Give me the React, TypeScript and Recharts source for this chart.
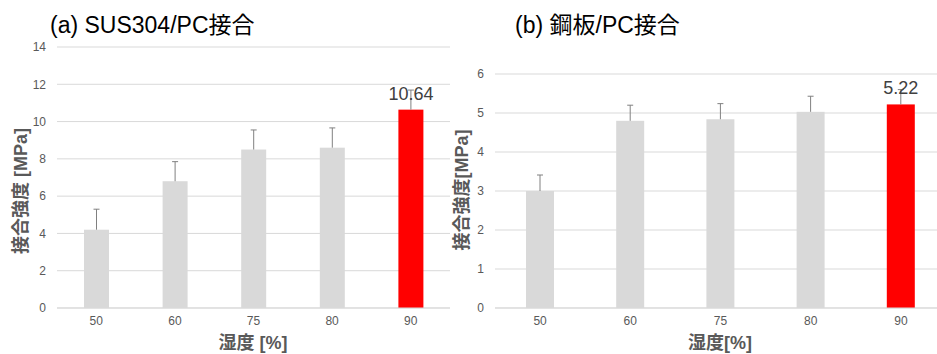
import React from 'react';
import { BarChart, Bar, XAxis, YAxis, CartesianGrid, Cell, LabelList } from 'recharts';

const categories = ['50', '60', '75', '80', '90'];
const susValues = [4.2, 6.8, 8.5, 8.6, 10.64];
const susErrors = [1.1, 1.05, 1.05, 1.06, 1.05];
const steelValues = [3.0, 4.8, 4.84, 5.03, 5.22];
const steelErrors = [0.41, 0.4, 0.4, 0.4, 0.38];
const susTicks = [0, 2, 4, 6, 8, 10, 12, 14];
const steelTicks = [0, 1, 2, 3, 4, 5, 6];

const susData = categories.map((c, i) => ({ name: c, value: susValues[i], err: susErrors[i] }));
const steelData = categories.map((c, i) => ({ name: c, value: steelValues[i], err: steelErrors[i] }));

const FONT = '"Liberation Sans", Arial, "Noto Sans CJK JP", sans-serif';
const GRAY_BAR = '#D9D9D9';
const RED = '#FF0000';
const TICK = { fill: '#595959', fontSize: 12, fontFamily: FONT };

// bar rect plus a plus-only error bar, scaled from the bar's own pixel height
const BarWithError = (props: any) => {
  const { x, y, width, height, value, payload, fill } = props;
  const errPx = value ? (payload.err * height) / value : 0;
  const cx = x + width / 2;
  return (
    <g>
      <rect x={x} y={y} width={width} height={height} fill={fill} />
      <line x1={cx} x2={cx} y1={y} y2={y - errPx} stroke="#808080" strokeWidth={1} />
      <line x1={cx - 3} x2={cx + 3} y1={y - errPx} y2={y - errPx} stroke="#808080" strokeWidth={1} />
    </g>
  );
};

const lastLabel = (last: number, lift: number) => (props: any) => {
  const { x, y, width, value, index } = props;
  if (index !== last) return null;
  return (
    <text x={x + width / 2} y={y - lift} textAnchor="middle" dominantBaseline="central"
      fill="#404040" fontSize={18} fontFamily={FONT}>
      {String(value)}
    </text>
  );
};

const Panel = ({ data, ticks, max, barSize, yWidth, margin, width }: any) => (
  <BarChart width={width} height={354} data={data} margin={margin}>
    <CartesianGrid vertical={false} stroke="#D9D9D9" />
    <XAxis dataKey="name" tickLine={false} axisLine={{ stroke: '#D9D9D9' }} tick={TICK} height={30} />
    <YAxis domain={[0, max]} ticks={ticks} axisLine={false} tickLine={false} tick={TICK}
      width={yWidth} tickMargin={5} interval={0} />
    <Bar dataKey="value" barSize={barSize} shape={BarWithError} isAnimationActive={false}>
      {data.map((_: any, i: number) => (
        <Cell key={i} fill={i === data.length - 1 ? RED : GRAY_BAR} />
      ))}
      <LabelList dataKey="value" content={lastLabel(data.length - 1, 16)} />
    </Bar>
  </BarChart>
);

const title: React.CSSProperties = {
  position: 'absolute', fontFamily: FONT, fontSize: 23, color: '#000', whiteSpace: 'nowrap', lineHeight: '28px',
};
const axisTitle: React.CSSProperties = {
  position: 'absolute', fontFamily: FONT, fontSize: 18, fontWeight: 'bold', color: '#595959',
  whiteSpace: 'nowrap', lineHeight: '20px',
};

export default function App() {
  return (
    <div style={{ position: 'absolute', left: 0, top: 0, width: 937, height: 354, overflow: 'hidden', background: '#fff' }}>
      <div style={{ position: 'absolute', left: 0, top: 0 }}>
        <Panel data={susData} ticks={susTicks} max={14} barSize={25} yWidth={40} width={470}
          margin={{ top: 47, right: 20, bottom: 16, left: 17 }} />
      </div>
      <div style={{ position: 'absolute', left: 460, top: 0 }}>
        <Panel data={steelData} ticks={steelTicks} max={6} barSize={28} yWidth={25} width={486}
          margin={{ top: 74, right: 0, bottom: 16, left: 10 }} />
      </div>
      <div style={{ ...title, left: 50, top: 11 }}>(a) SUS304/PC接合</div>
      <div style={{ ...title, left: 515, top: 11 }}>(b) 鋼板/PC接合</div>
      <div style={{ ...axisTitle, left: 21, top: 191, transform: 'translate(-50%, -50%) rotate(-90deg)' }}>接合強度 [MPa]</div>
      <div style={{ ...axisTitle, left: 462, top: 190, transform: 'translate(-50%, -50%) rotate(-90deg)' }}>接合強度[MPa]</div>
      <div style={{ ...axisTitle, left: 253, top: 333, transform: 'translateX(-50%)' }}>湿度 [%]</div>
      <div style={{ ...axisTitle, left: 720, top: 333, transform: 'translateX(-50%)' }}>湿度[%]</div>
    </div>
  );
}
